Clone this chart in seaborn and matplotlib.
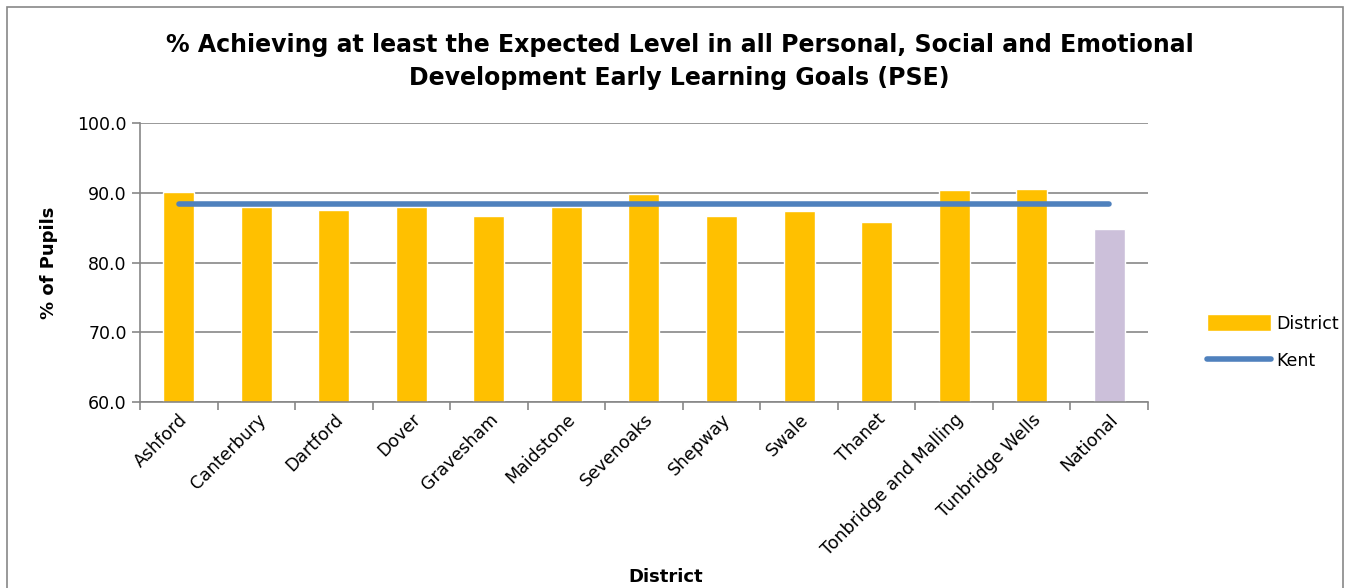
import numpy as np
import pandas as pd
import matplotlib
matplotlib.use("Agg")
import matplotlib.pyplot as plt
import seaborn as sns
from matplotlib.patches import Patch, Rectangle
from matplotlib.lines import Line2D

# data
districts = ["Ashford", "Canterbury", "Dartford", "Dover", "Gravesham", "Maidstone",
             "Sevenoaks", "Shepway", "Swale", "Thanet", "Tonbridge and Malling",
             "Tunbridge Wells", "National"]
pct_pupils = [90.1, 88.0, 87.6, 88.0, 86.7, 88.0, 89.8, 86.7, 87.4, 85.8, 90.4, 90.5, 84.8]
group = ["District"] * 12 + ["National"]
kent_level = 88.4

df = pd.DataFrame({"district": districts, "pct": pct_pupils, "group": group})

sns.set_style("white")
plt.rcParams["font.family"] = ["DejaVu Sans"]
plt.rcParams["text.color"] = "black"
plt.rcParams["axes.labelcolor"] = "black"
plt.rcParams["xtick.color"] = "black"
plt.rcParams["ytick.color"] = "black"

fig = plt.figure(figsize=(13.51, 5.88), dpi=100)
ax = fig.add_axes([0.1036, 0.3163, 0.7461, 0.4745])

sns.barplot(data=df, x="district", y="pct", hue="group",
            palette={"District": "#FFC000", "National": "#CCC0DA"},
            width=0.4, dodge=False, legend=False, saturation=1, ax=ax)

ax.plot(np.arange(len(districts)), [kent_level] * len(districts),
        color="#4F81BD", lw=4, solid_capstyle="round", zorder=3)

ax.set_ylim(60, 100)
ax.set_xlim(-0.5, len(districts) - 0.5)
ax.set_yticks(np.arange(60, 101, 10))
ax.set_yticklabels([f"{v:.1f}" for v in np.arange(60, 101, 10)], fontsize=12.5)
ax.yaxis.grid(True, color="#878787", lw=1.2)
ax.set_axisbelow(True)

ax.set_xticks(range(len(districts)))
ax.set_xticklabels(districts, rotation=45, ha="right", rotation_mode="anchor", fontsize=12.5)
ax.tick_params(axis="x", which="major", length=0, pad=6)
ax.set_xticks(np.arange(-0.5, len(districts)), minor=True)
ax.tick_params(axis="x", which="minor", bottom=True, length=6, color="#878787", width=1.2)
ax.tick_params(axis="y", left=True, length=6, color="#878787", labelcolor="black",
               width=1.2, direction="out")

for s in ["top", "right"]:
    ax.spines[s].set_visible(False)
for s in ["left", "bottom"]:
    ax.spines[s].set_color("#878787")
    ax.spines[s].set_linewidth(1.2)

ax.set_ylabel("% of Pupils", fontsize=13, fontweight="bold", labelpad=14)
ax.set_xlabel("")
fig.text(0.4927, 0.018, "District", ha="center", va="center", fontsize=13, fontweight="bold")

fig.text(0.503, 0.895, "% Achieving at least the Expected Level in all Personal, Social and Emotional\n"
         "Development Early Learning Goals (PSE)",
         ha="center", va="center", fontsize=17, fontweight="bold", linespacing=1.45)

handles = [Patch(facecolor="#FFC000", label="District"),
           Line2D([0], [0], color="#4F81BD", lw=4, solid_capstyle="round", label="Kent")]
fig.legend(handles=handles, loc="center left", bbox_to_anchor=(0.882, 0.418),
           frameon=False, fontsize=12.5, handlelength=3.7, handleheight=1.1,
           labelspacing=1.1, handletextpad=0.3)

fig.add_artist(Rectangle((0.005, -0.1), 0.989, 1.088, transform=fig.transFigure,
                         fill=False, edgecolor="#878787", lw=1.2))

fig.savefig("out.png", dpi=100)
